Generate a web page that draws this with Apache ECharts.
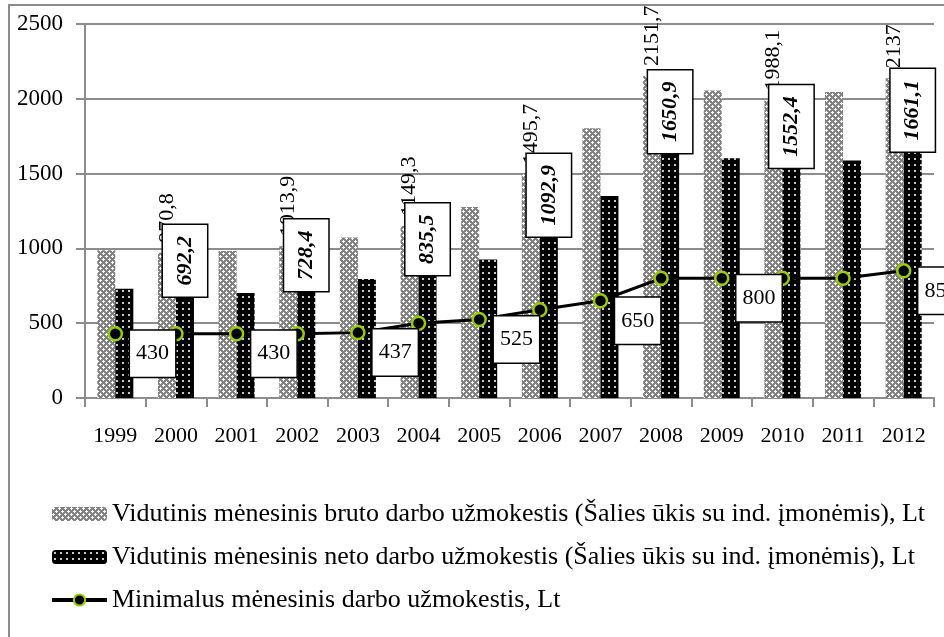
<!DOCTYPE html>
<html>
<head>
<meta charset="utf-8">
<script src="https://cdn.jsdelivr.net/npm/echarts@6/dist/echarts.min.js"></script>
<style>
  html, body { margin: 0; padding: 0; background: #fff; }
  #chart { width: 944px; height: 637px; }
</style>
</head>
<body>
<div id="chart"></div>
<script>
const years = ['1999', '2000', '2001', '2002', '2003', '2004', '2005', '2006', '2007', '2008', '2009', '2010', '2011', '2012'];
const brutoValues = [987.1, 970.8, 982.2, 1013.9, 1072.6, 1149.3, 1276.2, 1495.7, 1802.4, 2151.7, 2056.0, 1988.1, 2045.6, 2137];
const netoValues = [730, 692.2, 702, 728.4, 795, 835.5, 925, 1092.9, 1350, 1650.9, 1603, 1552.4, 1587, 1661.1];
const minWageValues = [430, 430, 430, 430, 437, 500, 525, 590, 650, 800, 800, 800, 800, 850];
const barLabelYears = ['2000', '2002', '2004', '2006', '2008', '2010', '2012'];
const minLabelYears = ['1999', '2001', '2003', '2005', '2007', '2009', '2012'];
const yTicks = { min: 0, max: 2500, interval: 500 };

const seriesNames = [
    'Vidutinis mėnesinis bruto darbo užmokestis (Šalies ūkis su ind. įmonėmis), Lt',
    'Vidutinis mėnesinis neto darbo užmokestis (Šalies ūkis su ind. įmonėmis), Lt',
    'Minimalus mėnesinis darbo užmokestis, Lt'
];

const FONT = '"Liberation Serif", "DejaVu Serif", serif';

function fmt(v) {
    return String(v).replace('.', ',');
}

// gray "crosses" fill, like the excel pattern
function brutoPattern() {
    const c = document.createElement('canvas');
    c.width = 6; c.height = 6;
    const ctx = c.getContext('2d');
    ctx.fillStyle = '#828282';
    ctx.fillRect(0, 0, 6, 6);
    ctx.fillStyle = '#ffffff';
    [[1, 1], [4, 4]].forEach(([x, y]) => {
        ctx.fillRect(x, y, 1, 1);
        ctx.fillRect(x - 1, y, 1, 1);
        ctx.fillRect(x + 1, y, 1, 1);
        ctx.fillRect(x, y - 1, 1, 1);
        ctx.fillRect(x, y + 1, 1, 1);
    });
    return c;
}

// black with light dots
function netoPattern() {
    const c = document.createElement('canvas');
    c.width = 6; c.height = 6;
    const ctx = c.getContext('2d');
    ctx.fillStyle = '#000000';
    ctx.fillRect(0, 0, 6, 6);
    ctx.fillStyle = '#c8c8c8';
    ctx.fillRect(2, 2, 2, 2);
    return c;
}

const chart = echarts.init(document.getElementById('chart'), null, { renderer: 'canvas' });

const brutoData = brutoValues.map((v, i) => ({
    value: v,
    label: { show: barLabelYears.includes(years[i]) }
}));
const netoData = netoValues.map((v, i) => ({
    value: v,
    label: { show: barLabelYears.includes(years[i]) }
}));
const minData = minWageValues.map((v, i) => ({
    value: v,
    label: { show: minLabelYears.includes(years[i]) }
}));

const option = {
    backgroundColor: '#fff',
    animation: false,
    graphic: [{
        type: 'rect',
        shape: { x: 9, y: 5, width: 945, height: 645 },
        style: { fill: 'none', stroke: '#8c8c8c', lineWidth: 2 },
        silent: true,
        z: -10
    }],
    grid: {
        left: 85,
        right: 10,
        top: 24,
        bottom: 239,
        containLabel: false
    },
    legend: {
        orient: 'vertical',
        left: 45,
        top: 496,
        itemWidth: 55,
        itemHeight: 14,
        itemGap: 17,
        lineStyle: { width: 4 },
        textStyle: { fontFamily: FONT, fontSize: 26, color: '#000' },
        data: seriesNames
    },
    xAxis: {
        type: 'category',
        data: years,
        axisLine: { lineStyle: { color: '#8c8c8c', width: 2 } },
        axisTick: { show: true, length: 9, lineStyle: { color: '#8c8c8c', width: 2 } },
        axisLabel: { color: '#000', fontFamily: FONT, fontSize: 22, margin: 27 }
    },
    yAxis: {
        type: 'value',
        min: yTicks.min,
        max: yTicks.max,
        interval: yTicks.interval,
        axisLine: { show: true, lineStyle: { color: '#8c8c8c', width: 2 } },
        axisTick: { show: true, length: 9, lineStyle: { color: '#8c8c8c', width: 2 } },
        axisLabel: {
            color: '#000', fontFamily: FONT, fontSize: 23, margin: 22,
            formatter: v => String(v)
        },
        splitLine: { lineStyle: { color: '#8c8c8c', width: 2 } }
    },
    series: [
        {
            name: seriesNames[0],
            type: 'bar',
            barWidth: 18,
            barGap: '0%',
            itemStyle: { color: { image: brutoPattern(), repeat: 'repeat' } },
            label: {
                position: 'top',
                rotate: 90,
                align: 'left',
                verticalAlign: 'middle',
                distance: 10,
                fontFamily: FONT,
                fontSize: 22,
                color: '#000',
                formatter: p => fmt(p.value)
            },
            data: brutoData
        },
        {
            name: seriesNames[1],
            type: 'bar',
            barWidth: 18,
            barGap: '0%',
            itemStyle: { color: { image: netoPattern(), repeat: 'repeat' } },
            label: {
                position: 'top',
                rotate: 90,
                align: 'left',
                verticalAlign: 'middle',
                distance: -2,
                fontFamily: FONT,
                fontSize: 22,
                fontWeight: 'bold',
                fontStyle: 'italic',
                color: '#000',
                backgroundColor: '#fff',
                borderColor: '#000',
                borderWidth: 1.5,
                padding: [11, 11],
                formatter: p => fmt(p.value)
            },
            data: netoData
        },
        {
            name: seriesNames[2],
            type: 'line',
            z: 3,
            symbol: 'circle',
            symbolSize: 13,
            lineStyle: { color: '#000', width: 3 },
            itemStyle: { color: '#000', borderColor: '#99cc00', borderWidth: 2.5 },
            label: {
                position: 'right',
                distance: 7,
                verticalAlign: 'top',
                offset: [0, -3],
                fontFamily: FONT,
                fontSize: 22,
                color: '#000',
                backgroundColor: '#fff',
                borderColor: '#000',
                borderWidth: 1.5,
                padding: [12, 6],
                formatter: p => fmt(p.value)
            },
            data: minData
        }
    ]
};

chart.setOption(option);
</script>
</body>
</html>
